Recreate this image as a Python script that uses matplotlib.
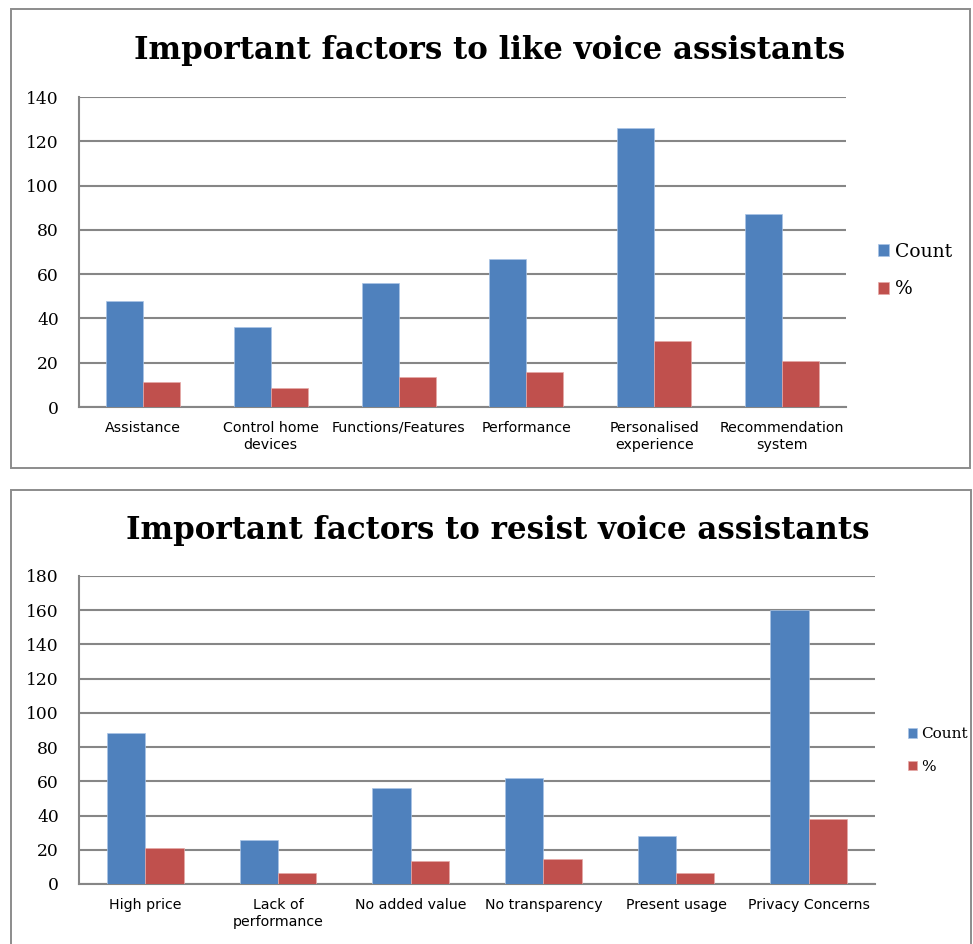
import matplotlib
matplotlib.use("Agg")
import matplotlib.pyplot as plt
from matplotlib.patches import Rectangle
import numpy as np

like_categories = ["Assistance", "Control home\ndevices", "Functions/Features", "Performance",
                   "Personalised\nexperience", "Recommendation\nsystem"]
like_count = [48, 36, 56, 67, 126, 87]
like_pct = [11.43, 8.57, 13.33, 15.95, 30.0, 20.71]
like_yticks = [0, 20, 40, 60, 80, 100, 120, 140]

resist_categories = ["High price", "Lack of\nperformance", "No added value", "No transparency",
                     "Present usage", "Privacy Concerns"]
resist_count = [88, 26, 56, 62, 28, 160]
resist_pct = [20.95, 6.19, 13.33, 14.76, 6.67, 38.10]
resist_yticks = [0, 20, 40, 60, 80, 100, 120, 140, 160, 180]

BLUE = "#4F81BD"
RED = "#C0504D"
GRID = "#868686"
SERIF = "DejaVu Serif"
SANS = "DejaVu Sans"

W, H = 973, 944
fig = plt.figure(figsize=(W / 100, H / 100), dpi=100)


def fx(px):
    return px / W


def fy(py):
    return 1 - py / H


# outer chart borders
for (x0, y0, x1, y1) in [(11, 9, 970, 468), (11, 490, 971, 960)]:
    fig.patches.append(Rectangle((fx(x0), fy(y1)), fx(x1) - fx(x0), fy(y0) - fy(y1),
                                 transform=fig.transFigure, fill=False,
                                 edgecolor="#8c8c8c", linewidth=1.4, zorder=0))


def draw(rect, cats, counts, pcts, yticks, title, title_xy, leg_anchor, leg_size, leg_spacing):
    ax = fig.add_axes(rect)
    x = np.arange(len(cats))
    w = 0.29
    b1 = ax.bar(x - w / 2, counts, w, color=BLUE, edgecolor="#a9c4e6", linewidth=0.5,
                label="Count", zorder=3)
    b2 = ax.bar(x + w / 2, pcts, w, color=RED, edgecolor="#e6a9a7", linewidth=0.5,
                label="%", zorder=3)
    ax.set_xlim(-0.5, len(cats) - 0.5)
    ax.set_ylim(0, yticks[-1])
    ax.set_yticks(yticks)
    ax.set_yticklabels([str(t) for t in yticks], fontfamily=SERIF, fontsize=12.3)
    ax.set_xticks(x)
    ax.set_xticklabels(cats, fontfamily=SANS, fontsize=10.2, linespacing=1.3)
    ax.tick_params(axis="both", length=0)
    ax.tick_params(axis="y", pad=14.5)
    ax.tick_params(axis="x", pad=10)
    ax.yaxis.grid(True, color=GRID, linewidth=1.5, zorder=0)
    ax.set_axisbelow(True)
    for s in ["top", "right"]:
        ax.spines[s].set_visible(False)
    for s in ["left", "bottom"]:
        ax.spines[s].set_color(GRID)
        ax.spines[s].set_linewidth(1.5)
    fig.text(fx(title_xy[0]), fy(title_xy[1]), title, ha="center", va="center",
             fontfamily=SERIF, fontweight="bold", fontsize=22.2)
    ax.legend(handles=[b1, b2], loc="center left", bbox_to_anchor=leg_anchor,
              frameon=False, handlelength=0.6, handleheight=0.6, handletextpad=0.3,
              labelspacing=leg_spacing, prop={"family": SERIF, "size": leg_size})
    return ax


draw([fx(79), fy(407), fx(846) - fx(79), fy(97) - fy(407)],
     like_categories, like_count, like_pct, like_yticks,
     "Important factors to like voice assistants", (490, 50),
     (1.02, 0.44), 13.5, 1.05)

draw([fx(79), fy(884), fx(875) - fx(79), fy(576) - fy(884)],
     resist_categories, resist_count, resist_pct, resist_yticks,
     "Important factors to resist voice assistants", (498, 530),
     (1.024, 0.433), 11, 1.2)

fig.savefig("out.png", dpi=100)
